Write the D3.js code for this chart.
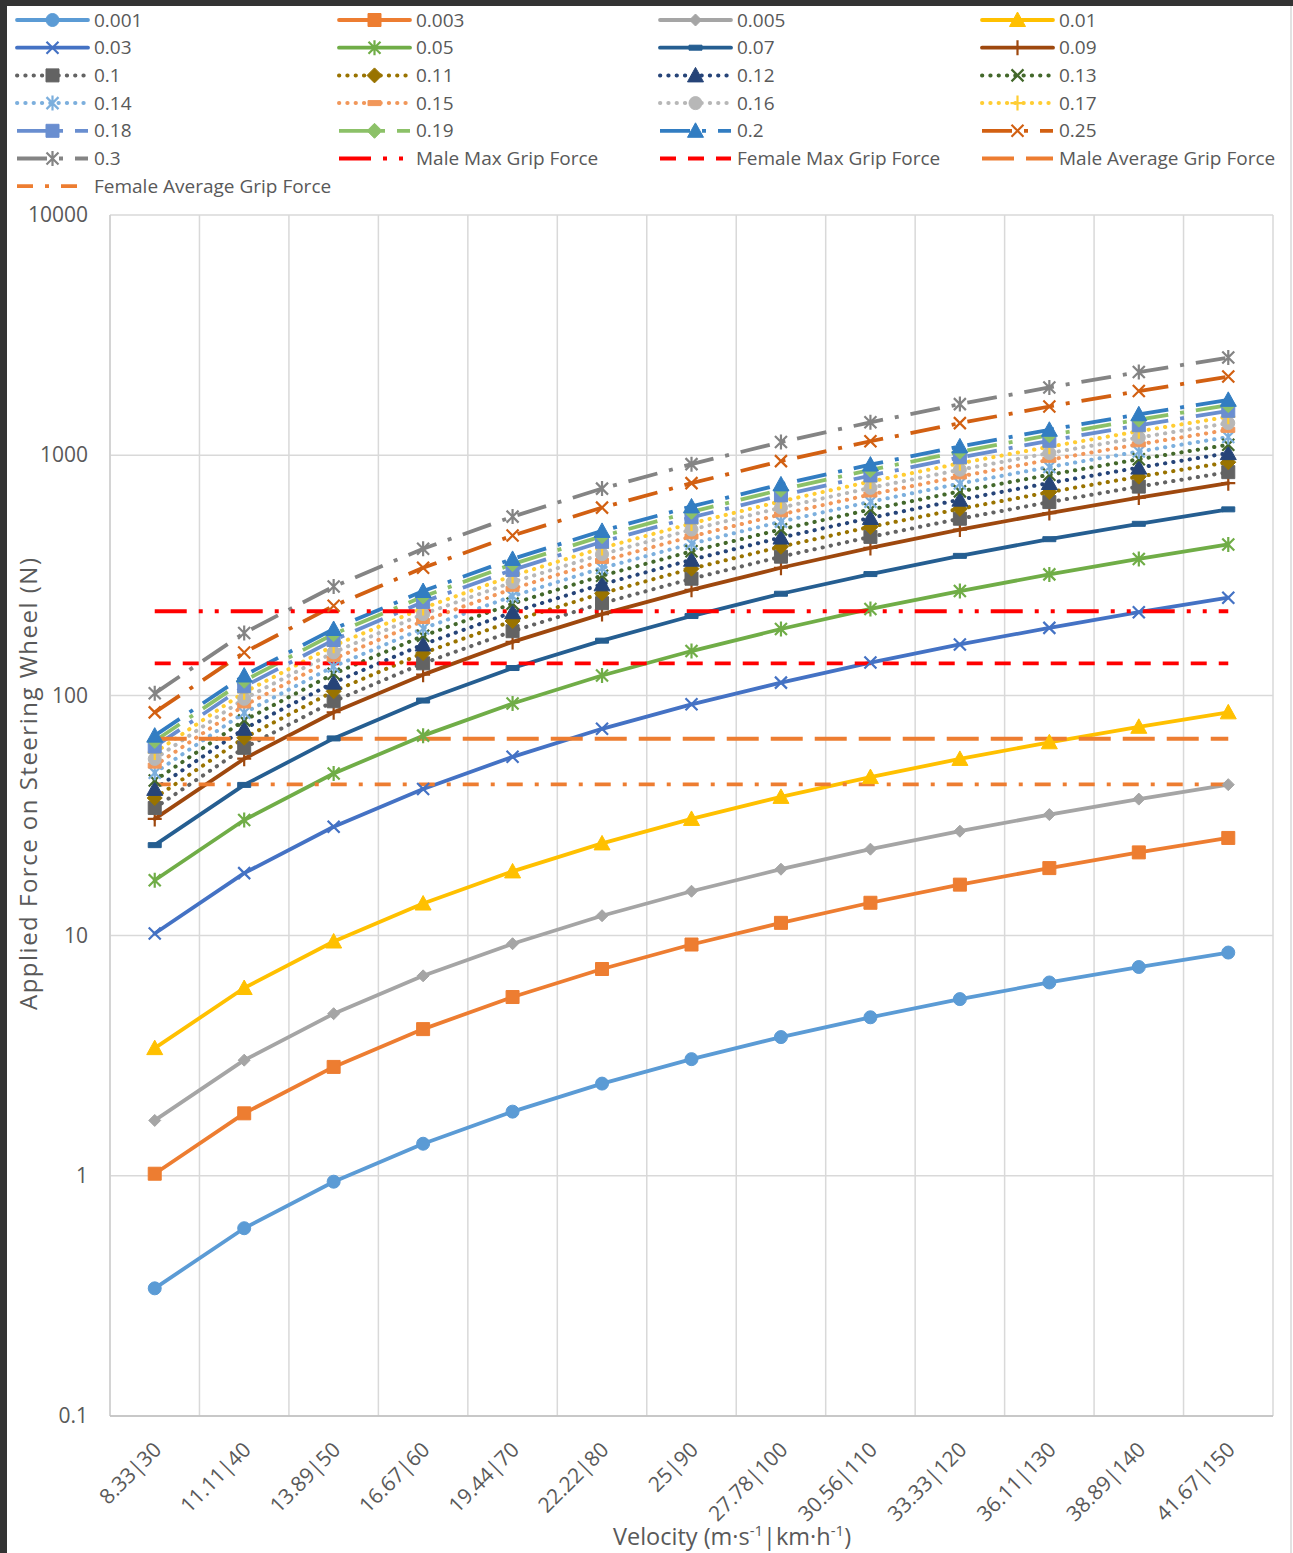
<!DOCTYPE html>
<html>
<head>
<meta charset="utf-8">
<script src="https://cdn.jsdelivr.net/npm/d3@7"></script>
<style>
  html, body { margin: 0; padding: 0; background: #ffffff; }
  svg { display: block; font-family: "Open Sans", "DejaVu Sans", sans-serif; }
</style>
</head>
<body>
<svg id="chart" width="1293" height="1553"></svg>
<script>
// Velocity categories (m/s | km/h)
const categories = ["8.33|30", "11.11|40", "13.89|50", "16.67|60", "19.44|70", "22.22|80", "25|90",
  "27.78|100", "30.56|110", "33.33|120", "36.11|130", "38.89|140", "41.67|150"];

// Applied force (N) for each coefficient, one value per velocity
const f0001 = [0.34, 0.605, 0.945, 1.36, 1.85, 2.42, 3.06, 3.78, 4.57, 5.44, 6.38, 7.40, 8.50];
const f0003 = [1.02, 1.82, 2.84, 4.08, 5.55, 7.26, 9.18, 11.3, 13.7, 16.3, 19.1, 22.2, 25.5];
const f0005 = [1.70, 3.03, 4.73, 6.80, 9.25, 12.1, 15.3, 18.9, 22.9, 27.2, 31.9, 37.0, 42.5];
const f001 = [3.40, 6.05, 9.45, 13.6, 18.5, 24.2, 30.6, 37.8, 45.7, 54.4, 63.8, 74.0, 85.0];
const f003 = [10.2, 18.2, 28.4, 40.8, 55.5, 72.6, 91.8, 113, 137, 163, 191, 222, 255];
const f005 = [17.0, 30.3, 47.3, 68.0, 92.5, 121, 153, 189, 229, 272, 319, 370, 425];
const f007 = [23.8, 42.4, 66.2, 95.2, 130, 169, 214, 265, 320, 381, 447, 518, 595];
const f009 = [30.6, 54.5, 85.1, 122, 167, 218, 275, 340, 411, 490, 574, 666, 765];
const f010 = [34.0, 60.5, 94.5, 136, 185, 242, 306, 378, 457, 544, 638, 740, 850];
const f011 = [37.4, 66.6, 104, 150, 204, 266, 337, 416, 503, 598, 702, 814, 935];
const f012 = [40.8, 72.6, 113, 163, 222, 290, 367, 454, 548, 653, 766, 888, 1020];
const f013 = [44.2, 78.7, 123, 177, 241, 315, 398, 491, 594, 707, 829, 962, 1105];
const f014 = [47.6, 84.7, 132, 190, 259, 339, 428, 529, 640, 762, 893, 1036, 1190];
const f015 = [51.0, 90.8, 142, 204, 278, 363, 459, 567, 686, 816, 957, 1110, 1275];
const f016 = [54.4, 96.8, 151, 218, 296, 387, 490, 605, 731, 870, 1021, 1184, 1360];
const f017 = [57.8, 103, 161, 231, 315, 411, 520, 643, 777, 925, 1085, 1258, 1445];
const f018 = [61.2, 109, 170, 245, 333, 436, 551, 680, 823, 979, 1148, 1332, 1530];
const f019 = [64.6, 115, 180, 258, 352, 460, 581, 718, 868, 1034, 1212, 1406, 1615];
const f020 = [68.0, 121, 189, 272, 370, 484, 612, 756, 914, 1088, 1276, 1480, 1700];
const f025 = [85.0, 151, 236, 340, 463, 605, 765, 945, 1143, 1360, 1595, 1850, 2125];
const f030 = [102, 182, 284, 408, 555, 726, 918, 1134, 1371, 1632, 1914, 2220, 2550];

const coefficientNames = ["0.001", "0.003", "0.005", "0.01", "0.03", "0.05", "0.07", "0.09", "0.1", "0.11",
  "0.12", "0.13", "0.14", "0.15", "0.16", "0.17", "0.18", "0.19", "0.2", "0.25", "0.3"];
const coefficientValues = [f0001, f0003, f0005, f001, f003, f005, f007, f009, f010, f011,
  f012, f013, f014, f015, f016, f017, f018, f019, f020, f025, f030];

// Grip force reference levels (N)
const gripNames = ["Male Max Grip Force", "Female Max Grip Force", "Male Average Grip Force", "Female Average Grip Force"];
const gripForces = [224, 136, 66, 42.6];

// Y axis ticks
const yTicks = [0.1, 1, 10, 100, 1000, 10000];

// ---- styles ----
const DOT = "0.3 8";
const LDD = "30 12 4 12";
const styles = {
  "0.001": { color: "#5B9BD5", dash: null, marker: "circle" },
  "0.003": { color: "#ED7D31", dash: null, marker: "square" },
  "0.005": { color: "#A5A5A5", dash: null, marker: "diamondSmall" },
  "0.01":  { color: "#FFC000", dash: null, marker: "triangle" },
  "0.03":  { color: "#4472C4", dash: null, marker: "x" },
  "0.05":  { color: "#70AD47", dash: null, marker: "star" },
  "0.07":  { color: "#255E91", dash: null, marker: "dash" },
  "0.09":  { color: "#9E480E", dash: null, marker: "plus" },
  "0.1":   { color: "#636363", dash: DOT, marker: "square" },
  "0.11":  { color: "#997300", dash: DOT, marker: "diamond" },
  "0.12":  { color: "#264478", dash: DOT, marker: "triangle" },
  "0.13":  { color: "#43682B", dash: DOT, marker: "x" },
  "0.14":  { color: "#7CAFDD", dash: DOT, marker: "star" },
  "0.15":  { color: "#F1975A", dash: DOT, marker: "dash" },
  "0.16":  { color: "#B7B7B7", dash: DOT, marker: "circle" },
  "0.17":  { color: "#FFCD33", dash: DOT, marker: "plus" },
  "0.18":  { color: "#698ED0", dash: LDD, marker: "square" },
  "0.19":  { color: "#8CC168", dash: LDD, marker: "diamond" },
  "0.2":   { color: "#327DC2", dash: LDD, marker: "triangle" },
  "0.25":  { color: "#D26012", dash: LDD, marker: "x" },
  "0.3":   { color: "#848484", dash: LDD, marker: "star" },
  "Male Max Grip Force":       { color: "#FF0000", dash: "32 12 4 12 4 12", marker: null },
  "Female Max Grip Force":     { color: "#FF0000", dash: "16 12", marker: null },
  "Male Average Grip Force":   { color: "#ED7D31", dash: "32 12", marker: null },
  "Female Average Grip Force": { color: "#ED7D31", dash: "16 12 4 12", marker: null }
};

const markerShapes = {
  circle:       { d: d3.symbol(d3.symbolCircle, Math.PI * 6.5 * 6.5)(), fill: true },
  square:       { d: "M-6.5,-6.5h13v13h-13Z", fill: true },
  diamond:      { d: "M0,-7.5L7.5,0L0,7.5L-7.5,0Z", fill: true },
  diamondSmall: { d: "M0,-6L6,0L0,6L-6,0Z", fill: true },
  triangle:     { d: "M0,-8L8,6.5L-8,6.5Z", fill: true },
  x:            { d: "M-6,-6L6,6M-6,6L6,-6", fill: false },
  star:         { d: "M-6,-6L6,6M-6,6L6,-6M0,-7.5L0,7.5", fill: false },
  plus:         { d: "M-7,0L7,0M0,-7.5L0,7.5", fill: false },
  dash:         { d: "M-6.5,-2.5h13v5h-13Z", fill: true }
};

const svg = d3.select("#chart");
const textColor = "#595959";

// frame of the surrounding window
svg.append("rect").attr("x", 0).attr("y", 0).attr("width", 1293).attr("height", 6).attr("fill", "#333333");
svg.append("rect").attr("x", 0).attr("y", 0).attr("width", 7).attr("height", 1553).attr("fill", "#333333");
svg.append("line").attr("x1", 1291).attr("x2", 1291).attr("y1", 6).attr("y2", 1553)
  .attr("stroke", "#d9d9d9").attr("stroke-width", 1.5);

// ---- scales ----
const plot = { left: 110, right: 1273, top: 215, bottom: 1416 };
const x = d3.scaleBand().domain(categories).range([plot.left, plot.right]).paddingInner(0).paddingOuter(0);
const xc = c => x(c) + x.bandwidth() / 2;
const y = d3.scaleLog().domain([0.1, 10000]).range([plot.bottom, plot.top]);

// ---- gridlines ----
const grid = svg.append("g").attr("stroke", "#D9D9D9").attr("stroke-width", 1.5);
yTicks.forEach(t => {
  grid.append("line").attr("x1", plot.left).attr("x2", plot.right).attr("y1", y(t)).attr("y2", y(t));
});
const edges = categories.map(c => x(c)).concat([x(categories[categories.length - 1]) + x.bandwidth()]);
edges.forEach(e => {
  grid.append("line").attr("x1", e).attr("x2", e).attr("y1", plot.top).attr("y2", plot.bottom);
});
// axis lines
svg.append("line").attr("x1", plot.left).attr("x2", plot.left).attr("y1", plot.top).attr("y2", plot.bottom)
  .attr("stroke", "#CFCFCF").attr("stroke-width", 1.5);
svg.append("line").attr("x1", plot.left).attr("x2", plot.right).attr("y1", plot.bottom).attr("y2", plot.bottom)
  .attr("stroke", "#BFBFBF").attr("stroke-width", 1.5);

// ---- y axis labels ----
const yAxis = d3.axisLeft(y).tickValues(yTicks).tickFormat(d => String(d)).tickSize(0).tickPadding(22);
const yg = svg.append("g").attr("transform", `translate(${plot.left},0)`).call(yAxis);
yg.select(".domain").remove();
yg.selectAll("text").attr("fill", textColor).attr("font-size", 21)
  .attr("font-family", "'Open Sans', sans-serif");

// ---- x axis labels ----
const xg = svg.append("g");
categories.forEach(c => {
  xg.append("text")
    .attr("transform", `translate(${xc(c) + 8},${plot.bottom + 35}) rotate(-45)`)
    .attr("text-anchor", "end")
    .attr("fill", textColor)
    .attr("font-size", 21)
    .text(c);
});

// ---- axis titles ----
svg.append("text")
  .attr("transform", `translate(37,784) rotate(-90)`)
  .attr("text-anchor", "middle")
  .attr("fill", textColor).attr("font-size", 24)
  .attr("textLength", 452).attr("lengthAdjust", "spacing")
  .text("Applied Force on Steering Wheel (N)");

const xt = svg.append("text")
  .attr("x", 732).attr("y", 1545)
  .attr("text-anchor", "middle")
  .attr("fill", textColor).attr("font-size", 23.5);
xt.append("tspan").text("Velocity (m·s");
xt.append("tspan").attr("font-size", 15).attr("dy", -9).text("-1");
xt.append("tspan").attr("dy", 9).text("|km·h");
xt.append("tspan").attr("font-size", 15).attr("dy", -9).text("-1");
xt.append("tspan").attr("dy", 9).text(")");

// ---- series ----
const lineGen = d3.line().x(d => xc(d.c)).y(d => y(d.v));
const linesG = svg.append("g");
const markersG = svg.append("g");

function styleLine(sel, st) {
  sel.attr("fill", "none").attr("stroke", st.color).attr("stroke-width", 3.8);
  if (st.dash === DOT) {
    sel.attr("stroke-dasharray", st.dash).attr("stroke-linecap", "round").attr("stroke-width", 4);
  } else if (st.dash) {
    sel.attr("stroke-dasharray", st.dash).attr("stroke-linecap", "butt");
  } else {
    sel.attr("stroke-linejoin", "round").attr("stroke-linecap", "round");
  }
  return sel;
}

function drawMarker(g, type, color, cx, cy) {
  const m = markerShapes[type];
  const p = g.append("path").attr("d", m.d).attr("transform", `translate(${cx},${cy})`);
  if (m.fill) p.attr("fill", color).attr("stroke", color).attr("stroke-width", 1);
  else p.attr("fill", "none").attr("stroke", color).attr("stroke-width", 2.2);
}

coefficientNames.forEach((name, i) => {
  const pts = categories.map((c, j) => ({ c, v: coefficientValues[i][j] }));
  styleLine(linesG.append("path").attr("d", lineGen(pts)), styles[name]);
});
gripNames.forEach((name, i) => {
  const pts = categories.map(c => ({ c, v: gripForces[i] }));
  styleLine(linesG.append("path").attr("d", lineGen(pts)), styles[name]);
});
coefficientNames.forEach((name, i) => {
  const st = styles[name];
  categories.forEach((c, j) => drawMarker(markersG, st.marker, st.color, xc(c), y(coefficientValues[i][j])));
});

// ---- legend ----
const legendNames = coefficientNames.concat(gripNames);
const colX = [17, 339, 660, 982];
const legend = svg.append("g");
legendNames.forEach((name, i) => {
  const col = i % 4, row = Math.floor(i / 4);
  const lx = colX[col], ly = 20 + row * 27.7;
  const st = styles[name];
  styleLine(legend.append("path").attr("d", `M${lx},${ly}H${lx + 71}`), st);
  if (st.marker) drawMarker(legend, st.marker, st.color, lx + 35.5, ly);
  legend.append("text")
    .attr("x", lx + 77).attr("y", ly)
    .attr("dy", "0.35em")
    .attr("fill", textColor).attr("font-size", 19)
    .text(name);
});
</script>
</body>
</html>
